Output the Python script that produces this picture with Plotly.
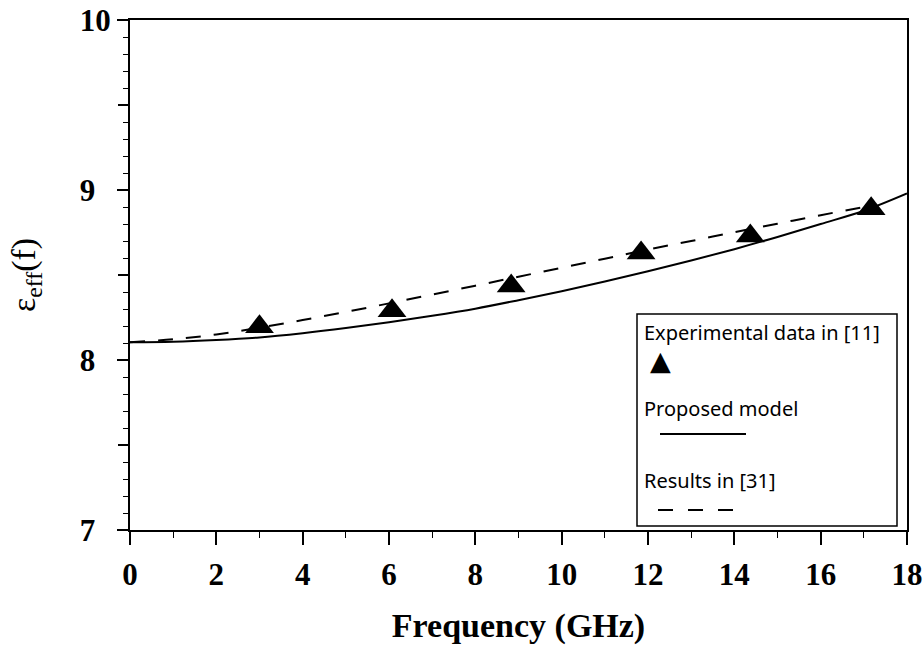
import plotly.graph_objects as go

# Experimental data in [11]
exp_freq = [3.0, 6.07, 8.83, 11.84, 14.37, 17.17]
exp_eps = [8.196, 8.29, 8.435, 8.63, 8.73, 8.89]

# Proposed model
model_freq = [0, 1, 2, 3, 4, 5, 6, 7, 8, 9, 10, 11, 12, 13, 14, 15, 16, 17, 18]
model_eps = [8.105, 8.108, 8.118, 8.133, 8.158, 8.188, 8.222, 8.26, 8.302, 8.352,
             8.405, 8.462, 8.522, 8.585, 8.652, 8.724, 8.8, 8.878, 8.98]

# Results in [31]
ref_freq = [0, 1, 2, 3, 4, 5, 6, 7, 8, 9, 10, 11, 12, 13, 14, 15, 16, 17, 17.2]
ref_eps = [8.105, 8.122, 8.15, 8.19, 8.235, 8.283, 8.333, 8.385, 8.437, 8.49,
           8.543, 8.596, 8.65, 8.7, 8.752, 8.802, 8.852, 8.9, 8.91]

x_ticks = [0, 2, 4, 6, 8, 10, 12, 14, 16, 18]
y_ticks = [7, 8, 9, 10]
y_ticktext = ["7\u00a0\u00a0", "8\u00a0\u00a0", "9\u00a0\u00a0", "10"]
y_half_ticks = [7.5, 8.5, 9.5]

legend_labels = ["Experimental data in [11]", "Proposed model", "Results in [31]"]

FONT = "Liberation Serif, Times New Roman, serif"
LFONT = "Noto Sans, DejaVu Sans, sans-serif"

fig = go.Figure()
fig.add_trace(go.Scatter(x=model_freq, y=model_eps, mode="lines",
                         line=dict(color="black", width=2, shape="spline"),
                         name=legend_labels[1], showlegend=False))
fig.add_trace(go.Scatter(x=ref_freq, y=ref_eps, mode="lines",
                         line=dict(color="black", width=2, dash="15px,13px", shape="spline"),
                         name=legend_labels[2], showlegend=False))
fig.add_trace(go.Scatter(x=exp_freq, y=exp_eps, mode="markers",
                         marker=dict(symbol="triangle-up", size=25, color="black"),
                         name=legend_labels[0], showlegend=False))
# invisible carrier trace for the half-unit tick axis
fig.add_trace(go.Scatter(x=exp_freq[:1], y=exp_eps[:1], yaxis="y2", mode="markers",
                         marker=dict(opacity=0), hoverinfo="skip", showlegend=False))

fig.update_layout(
    width=923, height=656,
    margin=dict(l=130, r=16, t=20, b=126),
    paper_bgcolor="white", plot_bgcolor="white",
    font=dict(family=FONT, color="black"),
    yaxis2=dict(overlaying="y", side="left", range=[7, 10], tickvals=y_half_ticks,
                ticks="outside", ticklen=11, tickwidth=1.5, tickcolor="black",
                showticklabels=False, showline=False, showgrid=False, zeroline=False,
                automargin=False),
)
fig.layout.xaxis.update(
    range=[0, 18], tickvals=x_ticks, ticks="outside", ticklen=13, tickwidth=1.5,
    tickcolor="black", showline=True, linecolor="black", linewidth=2, mirror=True,
    showgrid=False, zeroline=False, automargin=False, ticklabeloverflow="allow",
    tickfont=dict(family=FONT, size=31, color="black", weight="bold"),
    ticklabelstandoff=3,
    minor=dict(dtick=1, ticks="outside", ticklen=6, tickcolor="black", tickwidth=1.2),
    title=dict(text="<b>Frequency (GHz)</b>", font=dict(family=FONT, size=34, color="black"),
               standoff=22),
)
fig.layout.yaxis.update(
    range=[7, 10], tickvals=y_ticks, ticktext=y_ticktext, ticks="outside", ticklen=11,
    tickwidth=1.5, tickcolor="black", showline=True, linecolor="black", linewidth=2,
    mirror=True, showgrid=False, zeroline=False, automargin=False,
    ticklabeloverflow="allow",
    tickfont=dict(family=FONT, size=31, color="black", weight="bold"),
    ticklabelstandoff=0,
    minor=dict(dtick=0.1, ticks="outside", ticklen=5, tickcolor="black", tickwidth=1.2),
    title=dict(text="ε<sub>eff</sub>(f)", font=dict(family=FONT, size=34, color="black"),
               standoff=34),
)

# Legend box drawn in paper coordinates (page pixels -> plot fraction)
def px_x(px):
    return (px - 130) / (907 - 130)

def px_y(py):
    return (530 - py) / (530 - 20)

fig.add_shape(type="rect", xref="paper", yref="paper",
              x0=px_x(637), x1=px_x(897), y0=px_y(526), y1=px_y(314),
              line=dict(color="black", width=1.5), fillcolor="white", layer="above")
for lbl, py in zip(legend_labels, [332, 408, 480]):
    fig.add_annotation(xref="paper", yref="paper", x=px_x(642), y=px_y(py),
                       text=lbl, showarrow=False, xanchor="left", yanchor="middle",
                       font=dict(family=LFONT, size=20, color="black"))
fig.add_annotation(xref="paper", yref="paper", x=px_x(660), y=px_y(360),
                   text="▲", showarrow=False, xanchor="center", yanchor="middle",
                   font=dict(family="DejaVu Sans", size=27, color="black"))
fig.add_shape(type="line", xref="paper", yref="paper",
              x0=px_x(660), x1=px_x(746), y0=px_y(434), y1=px_y(434),
              line=dict(color="black", width=2))
fig.add_shape(type="line", xref="paper", yref="paper",
              x0=px_x(658), x1=px_x(733), y0=px_y(510), y1=px_y(510),
              line=dict(color="black", width=2, dash="15px,15px"))

# remove the default page margin so the figure fills the window exactly
fig.write_html("out.html",
               config={"displayModeBar": False},
               post_script="document.body.style.margin='0';document.body.style.overflow='hidden';")
